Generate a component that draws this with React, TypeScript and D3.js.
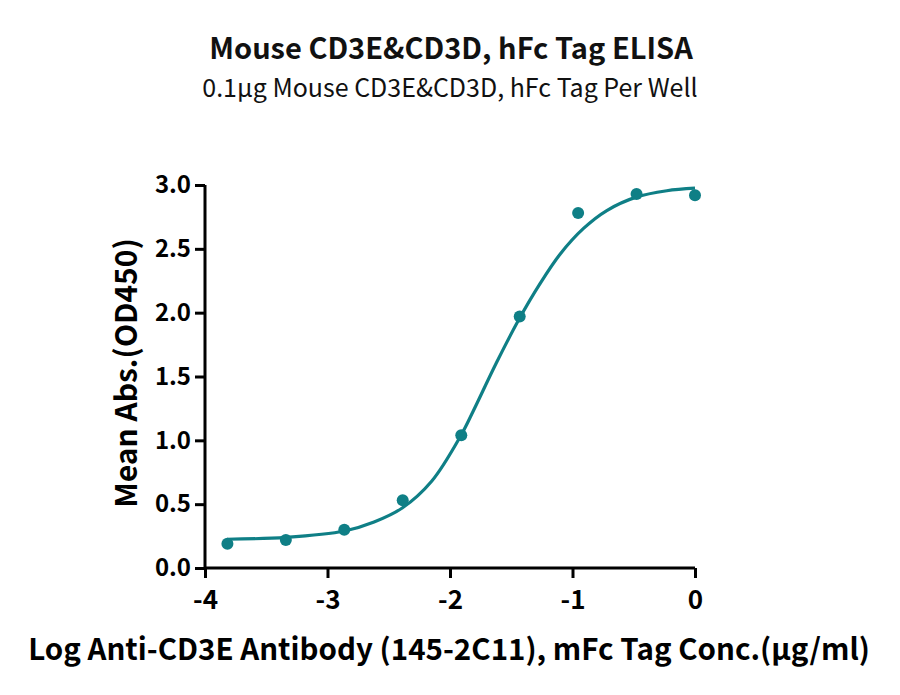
import { useEffect, useRef } from "react";
import * as d3 from "d3";

// measured points (log conc, OD450)
const logConc = [-3.817, -3.34, -2.863, -2.386, -1.908, -1.431, -0.954, -0.477, 0];
const meanAbs = [0.19, 0.22, 0.3, 0.53, 1.04, 1.97, 2.78, 2.93, 2.92];

// fitted curve
const fitX = [-3.82, -3.34, -2.86, -2.62, -2.39, -2.15, -1.91, -1.81, -1.62, -1.43, -1.27, -1.1, -0.91, -0.72, -0.48, -0.23, 0];
const fitY = [0.225, 0.24, 0.29, 0.36, 0.47, 0.68, 1.04, 1.23, 1.61, 1.96, 2.22, 2.46, 2.66, 2.8, 2.905, 2.955, 2.975];

const xTicks = [-4, -3, -2, -1, 0];
const yTicks = [0, 0.5, 1, 1.5, 2, 2.5, 3];

const title = "Mouse CD3E&CD3D, hFc Tag ELISA";
const subtitle = "0.1μg Mouse CD3E&CD3D, hFc Tag Per Well";
const xLabel = "Log Anti-CD3E Antibody (145-2C11), mFc Tag Conc.(μg/ml)";
const yLabel = "Mean Abs.(OD450)";

const teal = "#0f7f86";
const font = "'Noto Sans CJK SC', 'Noto Sans', sans-serif";

export default function App() {
  const svgRef = useRef<SVGSVGElement>(null);

  useEffect(() => {
    document.body.style.margin = "0";
    if (!svgRef.current) return;
    const svg = d3.select(svgRef.current);
    svg.selectAll("*").remove();

    const width = 900;
    const height = 695;
    svg.attr("width", width).attr("height", height);

    const x = d3.scaleLinear().domain([-4, 0]).range([205, 695]);
    const y = d3.scaleLinear().domain([0, 3]).range([568, 185]);

    // titles
    svg.append("text")
      .attr("x", 451).attr("y", 59)
      .attr("text-anchor", "middle")
      .attr("font-family", font).attr("font-weight", 700).attr("font-size", 29)
      .attr("fill", "#111")
      .text(title);
    svg.append("text")
      .attr("x", 450).attr("y", 97)
      .attr("text-anchor", "middle")
      .attr("font-family", font).attr("font-weight", 400).attr("font-size", 25)
      .attr("fill", "#111")
      .text(subtitle);

    // axes
    const xAxis = svg.append("g")
      .attr("transform", `translate(0,${y(0)})`)
      .call(d3.axisBottom(x).tickValues(xTicks).tickSize(10).tickPadding(13).tickFormat((d) => String(d)));
    const yAxis = svg.append("g")
      .attr("transform", `translate(${x(-4)},0)`)
      .call(d3.axisLeft(y).tickValues(yTicks).tickSize(10).tickPadding(4).tickFormat(d3.format(".1f")));

    [xAxis, yAxis].forEach((g) => {
      g.select(".domain").attr("stroke", "#000").attr("stroke-width", 3);
      g.selectAll(".tick line").attr("stroke", "#000").attr("stroke-width", 3);
      g.selectAll(".tick text")
        .attr("font-family", font).attr("font-weight", 700)
        .attr("fill", "#000");
    });
    xAxis.selectAll(".tick text").attr("font-size", 26);
    yAxis.selectAll(".tick text").attr("font-size", 24);
    xAxis.select(".domain").attr("d", `M${x(-4)},0H${x(0)}`);
    yAxis.select(".domain").attr("d", `M0,${y(0)}V${y(3)}`);

    // axis titles
    svg.append("text")
      .attr("x", 449).attr("y", 660)
      .attr("text-anchor", "middle")
      .attr("font-family", font).attr("font-weight", 700).attr("font-size", 29.5)
      .attr("fill", "#000")
      .text(xLabel);
    svg.append("text")
      .attr("transform", `translate(137,373) rotate(-90)`)
      .attr("text-anchor", "middle")
      .attr("font-family", font).attr("font-weight", 700).attr("font-size", 30)
      .attr("fill", "#000")
      .text(yLabel);

    // fitted curve
    const line = d3.line<number>()
      .x((_, i) => x(fitX[i]))
      .y((d) => y(d))
      .curve(d3.curveCatmullRom.alpha(0.5));
    svg.append("path")
      .attr("d", line(fitY) as string)
      .attr("fill", "none")
      .attr("stroke", teal)
      .attr("stroke-width", 3.2);

    // points
    svg.append("g")
      .selectAll("circle")
      .data(meanAbs)
      .enter()
      .append("circle")
      .attr("cx", (_, i) => x(logConc[i]))
      .attr("cy", (d) => y(d))
      .attr("r", 6)
      .attr("fill", teal);
  }, []);

  return <svg ref={svgRef} style={{ display: "block" }} />;
}
